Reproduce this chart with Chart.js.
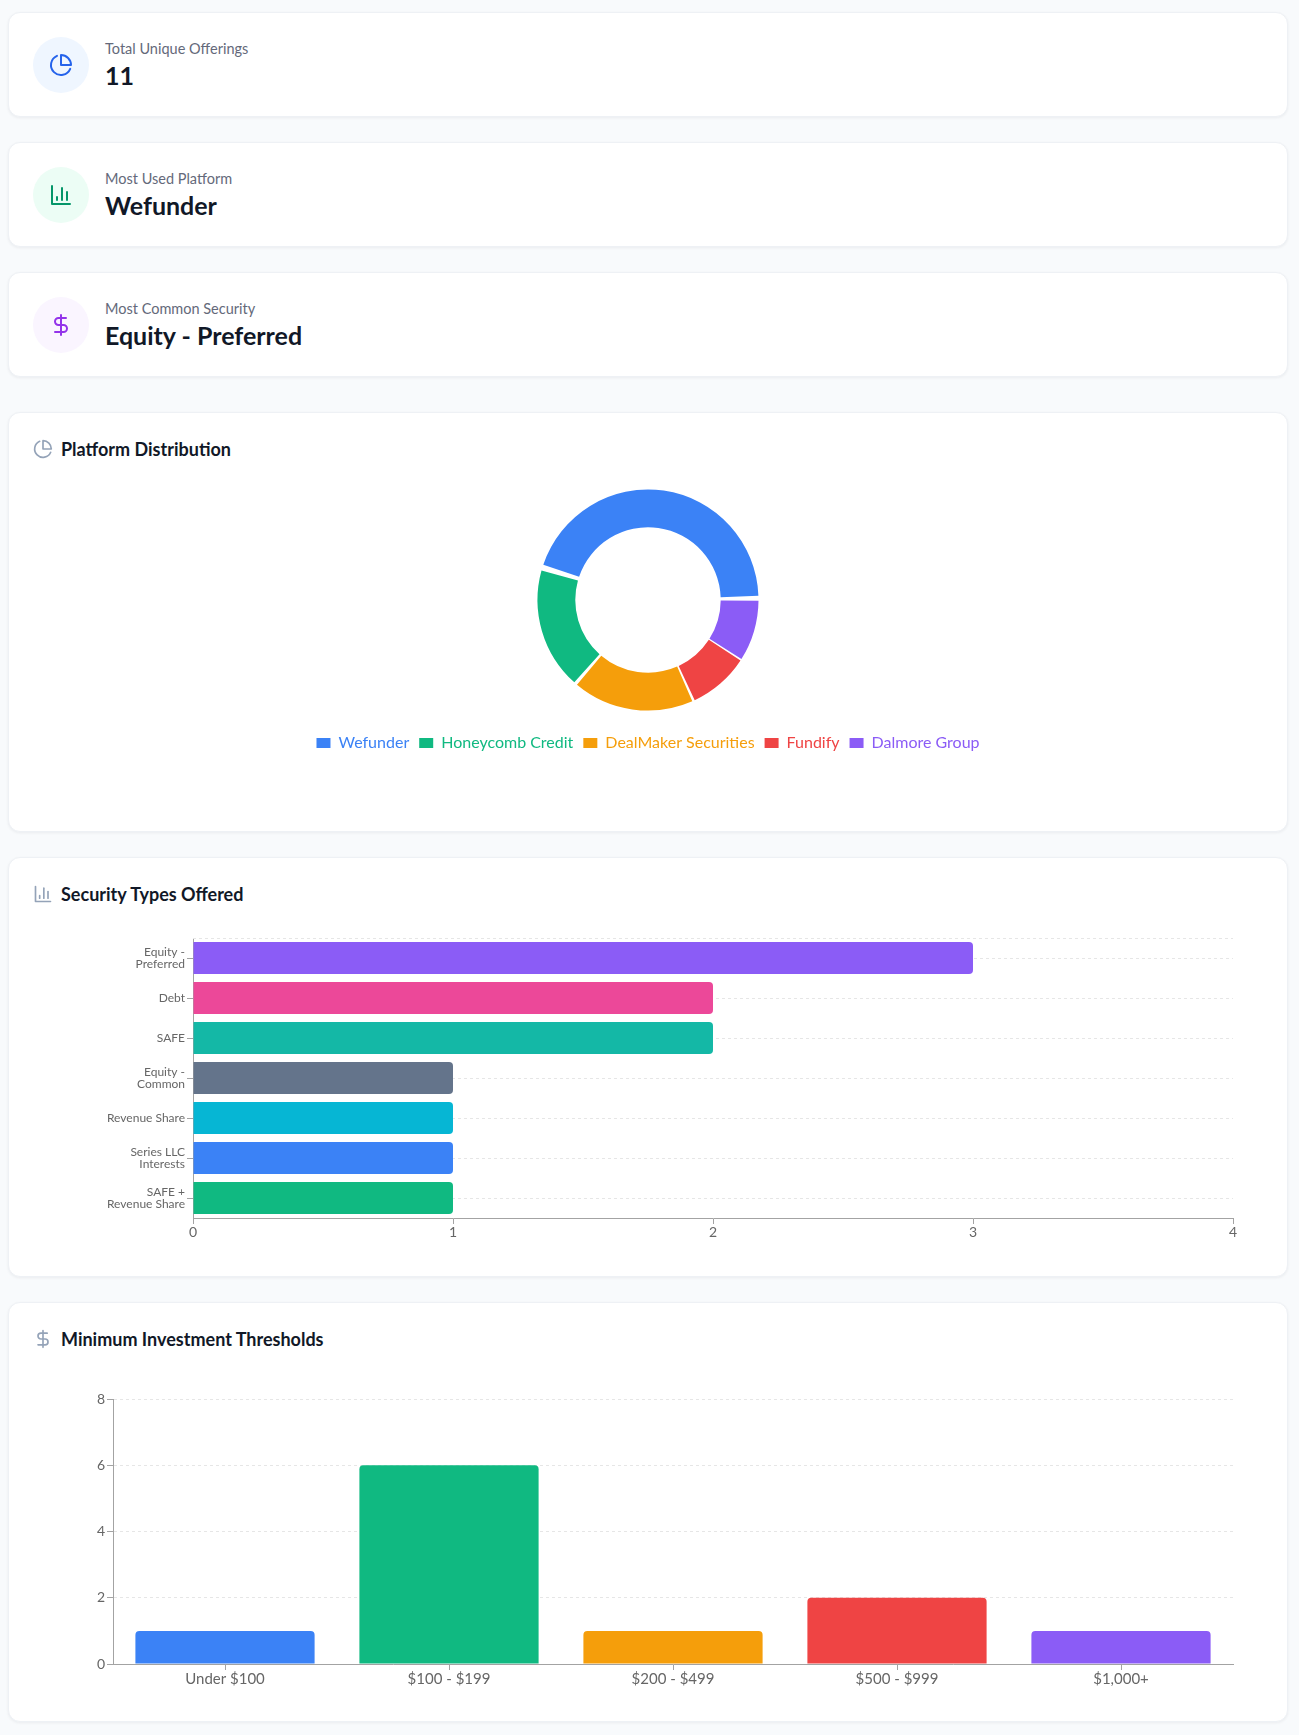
<!DOCTYPE html>
<html>
<head>
<meta charset="utf-8">
<title>Offerings Dashboard</title>
<script src="https://cdn.jsdelivr.net/npm/chart.js@4.4.1/dist/chart.umd.min.js"></script>
<style>
  * { box-sizing: border-box; }
  body { margin: 0; background: #f8fafc; font-family: Lato, "Noto Sans", sans-serif; color: #111827; }
  .wrap { width: 1280px; margin-left: 8px; padding-top: 12px; }
  .card { background: #fff; border: 1px solid #eef1f5; border-radius: 12px; box-shadow: 0 1px 3px rgba(15, 23, 42, 0.06); margin-bottom: 25px; }
  .stat { height: 105px; padding: 24px; display: flex; align-items: center; }
  .stat.last { margin-bottom: 35px; }
  .icon { width: 56px; height: 56px; border-radius: 50%; display: flex; align-items: center; justify-content: center; margin-right: 16px; flex: none; }
  .label { font-size: 14.5px; line-height: 20px; color: #64697a; }
  .value { font-size: 25px; line-height: 32px; font-weight: 700; color: #111827; }
  .chart-card { height: 420px; padding: 24px; }
  .title { display: flex; align-items: center; height: 24px; font-size: 18px; font-weight: 700; }
  .title svg { margin-right: 8px; }
  .box { position: relative; height: 330px; margin-top: 16px; }
  .box.pie { height: 336px; margin-top: 10px; }
</style>
</head>
<body>
<div class="wrap">
  <div class="card stat">
    <div class="icon" style="background:#eff6ff">
      <svg width="24" height="24" viewBox="0 0 24 24" fill="none" stroke="#2563eb" stroke-width="2" stroke-linecap="round" stroke-linejoin="round"><path d="M21.21 15.89A10 10 0 1 1 8 2.83"/><path d="M22 12A10 10 0 0 0 12 2v10z"/></svg>
    </div>
    <div><div class="label">Total Unique Offerings</div><div class="value" id="totalValue"></div></div>
  </div>
  <div class="card stat">
    <div class="icon" style="background:#ecfdf5">
      <svg width="24" height="24" viewBox="0 0 24 24" fill="none" stroke="#059669" stroke-width="2" stroke-linecap="round" stroke-linejoin="round"><path d="M3 3v18h18"/><path d="M18 17V9"/><path d="M13 17V5"/><path d="M8 17v-3"/></svg>
    </div>
    <div><div class="label">Most Used Platform</div><div class="value" id="topPlatform"></div></div>
  </div>
  <div class="card stat last">
    <div class="icon" style="background:#faf5ff">
      <svg width="24" height="24" viewBox="0 0 24 24" fill="none" stroke="#9333ea" stroke-width="2" stroke-linecap="round" stroke-linejoin="round"><line x1="12" x2="12" y1="2" y2="22"/><path d="M17 5H9.5a3.5 3.5 0 0 0 0 7h5a3.5 3.5 0 0 1 0 7H6"/></svg>
    </div>
    <div><div class="label">Most Common Security</div><div class="value" id="topSecurity"></div></div>
  </div>

  <div class="card chart-card">
    <div class="title">
      <svg width="20" height="20" viewBox="0 0 24 24" fill="none" stroke="#94a3b8" stroke-width="2" stroke-linecap="round" stroke-linejoin="round"><path d="M21.21 15.89A10 10 0 1 1 8 2.83"/><path d="M22 12A10 10 0 0 0 12 2v10z"/></svg>
      Platform Distribution
    </div>
    <div class="box pie"><canvas id="platformChart"></canvas></div>
  </div>

  <div class="card chart-card">
    <div class="title">
      <svg width="20" height="20" viewBox="0 0 24 24" fill="none" stroke="#94a3b8" stroke-width="2" stroke-linecap="round" stroke-linejoin="round"><path d="M3 3v18h18"/><path d="M18 17V9"/><path d="M13 17V5"/><path d="M8 17v-3"/></svg>
      Security Types Offered
    </div>
    <div class="box"><canvas id="securityChart"></canvas></div>
  </div>

  <div class="card chart-card">
    <div class="title">
      <svg width="20" height="20" viewBox="0 0 24 24" fill="none" stroke="#94a3b8" stroke-width="2" stroke-linecap="round" stroke-linejoin="round"><line x1="12" x2="12" y1="2" y2="22"/><path d="M17 5H9.5a3.5 3.5 0 0 0 0 7h5a3.5 3.5 0 0 1 0 7H6"/></svg>
      Minimum Investment Thresholds
    </div>
    <div class="box"><canvas id="thresholdChart"></canvas></div>
  </div>
</div>

<script>
// Platform data
const platforms = ['Wefunder', 'Honeycomb Credit', 'DealMaker Securities', 'Fundify', 'Dalmore Group'];
const platformCounts = [5, 2, 2, 1, 1];
const platformColors = ['#3b82f6', '#10b981', '#f59e0b', '#ef4444', '#8b5cf6'];

// Security type data
const securityTypes = ['Equity - Preferred', 'Debt', 'SAFE', 'Equity - Common', 'Revenue Share', 'Series LLC Interests', 'SAFE + Revenue Share'];
const securityCounts = [3, 2, 2, 1, 1, 1, 1];
const securityColors = ['#8b5cf6', '#ec4899', '#14b8a6', '#64748b', '#06b6d4', '#3b82f6', '#10b981'];

// Minimum investment data
const thresholds = ['Under $100', '$100 - $199', '$200 - $499', '$500 - $999', '$1,000+'];
const thresholdCounts = [1, 6, 1, 2, 1];
const thresholdColors = ['#3b82f6', '#10b981', '#f59e0b', '#ef4444', '#8b5cf6'];

const axisColor = '#a3a3a3';
const gridColor = '#e6e6e6';
const tickColor = '#666';

Chart.defaults.font.family = 'Lato, "Noto Sans", sans-serif';
Chart.defaults.animation = false;

// Summary cards
const total = platformCounts.reduce((a, b) => a + b, 0);
document.getElementById('totalValue').textContent = total;
document.getElementById('topPlatform').textContent = platforms[platformCounts.indexOf(Math.max(...platformCounts))];
document.getElementById('topSecurity').textContent = securityTypes[securityCounts.indexOf(Math.max(...securityCounts))];

// wrap long category names onto two lines
function wrapLabel(text, maxChars) {
    const lines = [];
    let line = '';
    text.split(' ').forEach(word => {
        const next = line ? line + ' ' + word : word;
        if (next.length > maxChars && line) {
            lines.push(line);
            line = word;
        } else {
            line = next;
        }
    });
    lines.push(line);
    return lines;
}

// Doughnut: drawn clockwise from 3 o'clock, so feed it reversed
new Chart(document.getElementById('platformChart'), {
    type: 'doughnut',
    data: {
        labels: platforms.slice().reverse(),
        datasets: [{
            data: platformCounts.slice().reverse(),
            backgroundColor: platformColors.slice().reverse(),
            borderWidth: 0,
            spacing: 5
        }]
    },
    options: {
        responsive: true,
        maintainAspectRatio: false,
        rotation: 90,
        radius: 108,
        cutout: '65%',
        layout: { padding: { top: 4, bottom: 46 } },
        plugins: {
            tooltip: { enabled: false },
            legend: {
                position: 'bottom',
                reverse: true,
                labels: {
                    boxWidth: 14,
                    boxHeight: 10,
                    padding: 10,
                    font: { size: 16 },
                    generateLabels(chart) {
                        const items = Chart.overrides.doughnut.plugins.legend.labels.generateLabels(chart);
                        items.forEach(item => { item.fontColor = item.fillStyle; item.lineWidth = 0; });
                        return items;
                    }
                }
            }
        }
    }
});

// dashed line along the top of the plot
const topGridLine = {
    id: 'topGridLine',
    beforeDatasetsDraw(chart) {
        const { ctx, chartArea } = chart;
        ctx.save();
        ctx.strokeStyle = gridColor;
        ctx.lineWidth = 1;
        ctx.setLineDash([3, 3]);
        ctx.beginPath();
        ctx.moveTo(chartArea.left, chartArea.top + 0.5);
        ctx.lineTo(chartArea.right, chartArea.top + 0.5);
        ctx.stroke();
        ctx.restore();
    }
};

// Security types: horizontal bars
new Chart(document.getElementById('securityChart'), {
    type: 'bar',
    data: {
        labels: securityTypes,
        datasets: [{
            data: securityCounts,
            backgroundColor: securityColors,
            borderRadius: 4,
            categoryPercentage: 0.8,
            barPercentage: 1
        }]
    },
    plugins: [topGridLine],
    options: {
        indexAxis: 'y',
        responsive: true,
        maintainAspectRatio: false,
        layout: { padding: { top: 16, right: 30, left: 0, bottom: 0 } },
        plugins: { legend: { display: false }, tooltip: { enabled: false } },
        scales: {
            x: {
                min: 0,
                max: 4,
                ticks: { stepSize: 1, color: tickColor, font: { size: 14 }, padding: 0, maxRotation: 0 },
                grid: { drawOnChartArea: false, tickLength: 6, tickColor: axisColor },
                border: { color: axisColor },
                afterFit(scale) { scale.height = 34; }
            },
            y: {
                ticks: {
                    color: tickColor,
                    font: { size: 12, lineHeight: 1 },
                    padding: 2,
                    callback(value) { return wrapLabel(this.getLabelForValue(value), 13); }
                },
                grid: { offset: false, color: gridColor, tickLength: 6, tickColor: axisColor },
                border: { color: axisColor, dash: [3, 3] },
                afterFit(scale) { scale.width = 160; }
            }
        }
    }
});

// Minimum investment thresholds: vertical bars
new Chart(document.getElementById('thresholdChart'), {
    type: 'bar',
    data: {
        labels: thresholds,
        datasets: [{
            data: thresholdCounts,
            backgroundColor: thresholdColors,
            borderRadius: 4,
            categoryPercentage: 0.8,
            barPercentage: 1
        }]
    },
    options: {
        responsive: true,
        maintainAspectRatio: false,
        layout: { padding: { top: 32, right: 30, left: 0, bottom: 0 } },
        plugins: { legend: { display: false }, tooltip: { enabled: false } },
        scales: {
            x: {
                ticks: { color: tickColor, font: { size: 15 }, padding: 0, maxRotation: 0 },
                grid: { offset: false, drawOnChartArea: false, tickLength: 6, tickColor: axisColor },
                border: { color: axisColor },
                afterFit(scale) { scale.height = 33; }
            },
            y: {
                min: 0,
                max: 8,
                ticks: { stepSize: 2, color: tickColor, font: { size: 14 }, padding: 2 },
                grid: { color: gridColor, tickLength: 6, tickColor: axisColor },
                border: { color: axisColor, dash: [3, 3] },
                afterFit(scale) { scale.width = 80; }
            }
        }
    }
});
</script>
</body>
</html>
